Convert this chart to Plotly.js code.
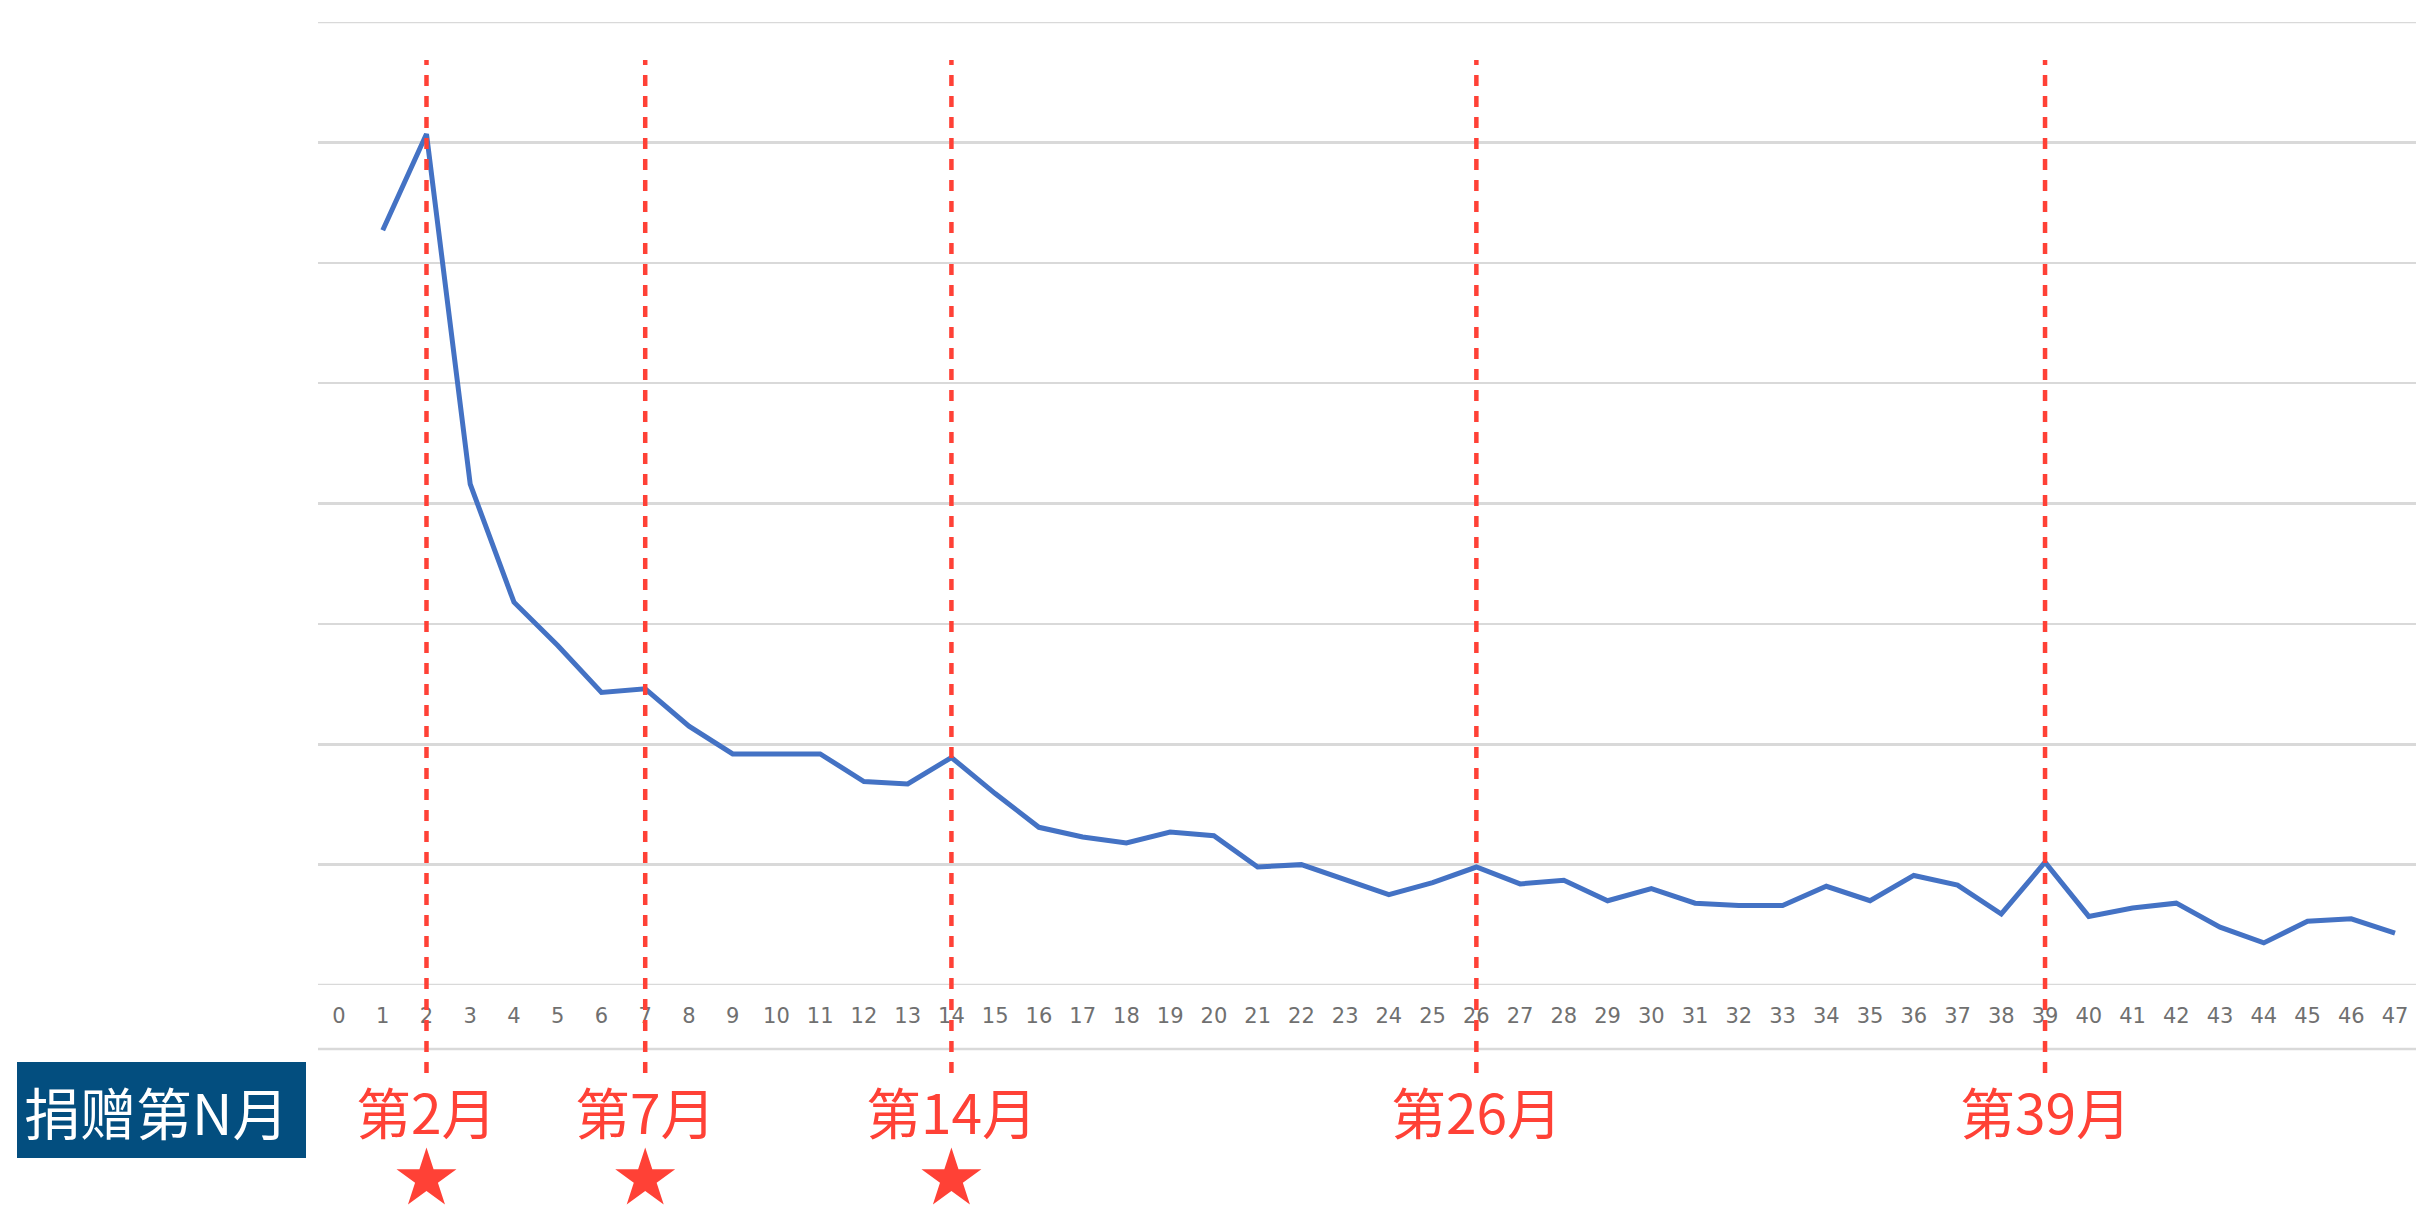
<!DOCTYPE html>
<html>
<head>
<meta charset="utf-8">
<script src="https://cdn.plot.ly/plotly-3.0.1.min.js"></script>
<style>
  html, body { margin: 0; padding: 0; background: #ffffff; }
  #chart { width: 2416px; height: 1207px; }
</style>
</head>
<body>
<div id="chart"></div>
<script>
// ---- data (y has no labelled scale, units = gridline steps) ----
const tickMonths = [0,1,2,3,4,5,6,7,8,9,10,11,12,13,14,15,16,17,18,19,20,21,22,23,
                    24,25,26,27,28,29,30,31,32,33,34,35,36,37,38,39,40,41,42,43,44,45,46,47];
const tickLabels = ["0","1","2","3","4","5","6","7","8","9","10","11","12","13","14","15",
                    "16","17","18","19","20","21","22","23","24","25","26","27","28","29","30",
                    "31","32","33","34","35","36","37","38","39","40","41","42","43","44","45","46","47"];
const months = [1,2,3,4,5,6,7,8,9,10,11,12,13,14,15,16,17,18,19,20,21,22,23,24,
                25,26,27,28,29,30,31,32,33,34,35,36,37,38,39,40,41,42,43,44,45,46,47];
const values = [6.27,7.07,4.16,3.18,2.82,2.43,2.46,2.15,1.92,1.92,1.92,1.69,1.67,1.89,
                1.59,1.31,1.23,1.18,1.27,1.24,0.98,1.00,0.87,0.75,0.85,0.98,0.84,0.87,
                0.70,0.80,0.68,0.66,0.66,0.82,0.70,0.91,0.83,0.59,1.02,0.57,0.64,0.68,
                0.48,0.35,0.53,0.55,0.43];
const markedMonths = [2,7,14,26,39];
const markedLabels = ["第2月","第7月","第14月","第26月","第39月"];
const starMonths = [2,7,14];
const boxLabel = "捐赠第N月";

// ---- layout geometry (pixels of the 2416x1207 page) ----
const W = 2416, H = 1207;
const PLOT_L = 318, PLOT_T = 22, PLOT_B = 985;
const X_RANGE = [-0.48, 47.48];
const Y_RANGE = [0, 8];
const pxPerMonth = (W - PLOT_L) / (X_RANGE[1] - X_RANGE[0]);
const fx = px => px / W;           // page x -> paper
const fy = py => 1 - py / H;       // page y -> paper

// ---- styling constants ----
const RED = "#FF4136";
const BLUE = "#4472C4";
const GRID = "#d9d9d9";
const CJK = "Noto Sans CJK SC, Noto Sans, sans-serif";

const traces = [
  {
    x: months, y: values, type: "scatter", mode: "lines",
    xaxis: "x", yaxis: "y",
    line: { color: BLUE, width: 5 },
    hoverinfo: "skip", showlegend: false
  },
  {
    // stars under the first three marked months, on a full-page axis pair
    x: starMonths, y: starMonths.map(() => H - 1179), type: "scatter", mode: "markers",
    xaxis: "x2", yaxis: "y2",
    marker: { symbol: "star", size: 45, color: RED, line: { width: 0 } },
    cliponaxis: false, hoverinfo: "skip", showlegend: false
  }
];

const shapes = markedMonths.map(m => ({
  type: "line", xref: "x", yref: "paper",
  x0: m, x1: m, y0: fy(1073), y1: fy(60),
  line: { color: RED, width: 4.5, dash: "11px,10px" },
  layer: "above"
}));
// edge gridlines (value 0 and 8) and the line under the tick labels
[0, 8].forEach(v => shapes.push({
  type: "line", xref: "paper", yref: "y",
  x0: fx(PLOT_L), x1: 1, y0: v, y1: v,
  line: { color: GRID, width: 2.5 }, layer: "below"
}));
shapes.push({
  type: "line", xref: "paper", yref: "paper",
  x0: fx(PLOT_L), x1: 1, y0: fy(1049), y1: fy(1049),
  line: { color: GRID, width: 2.5 }, layer: "below"
});
shapes.push({
  type: "rect", xref: "paper", yref: "paper",
  x0: fx(17), x1: fx(306), y0: fy(1158), y1: fy(1062),
  fillcolor: "#034E7F", line: { width: 0 }, layer: "below"
});

const annotations = markedMonths.map((m, i) => ({
  x: m, xref: "x", y: fy(1110), yref: "paper",
  text: markedLabels[i], showarrow: false,
  xanchor: "center", yanchor: "middle",
  font: { family: CJK, size: 55, color: RED }
}));
annotations.push({
  x: fx(156), xref: "paper", y: fy(1110), yref: "paper",
  text: boxLabel, showarrow: false,
  xanchor: "center", yanchor: "middle",
  font: { family: CJK, size: 56, color: "#ffffff" }
});

const layout = {
  width: W, height: H,
  margin: { l: 0, r: 0, t: 0, b: 0, pad: 0 },
  paper_bgcolor: "#ffffff", plot_bgcolor: "rgba(0,0,0,0)",
  showlegend: false,
  xaxis: {
    domain: [fx(PLOT_L), 1], anchor: "y",
    range: X_RANGE,
    tickmode: "array", tickvals: tickMonths, ticktext: tickLabels,
    showgrid: false, zeroline: false, showline: false,
    ticks: "", ticklabelstandoff: 16,
    tickfont: { family: "DejaVu Sans, sans-serif", size: 21, color: "#707070" },
    fixedrange: true
  },
  yaxis: {
    domain: [fy(PLOT_B), fy(PLOT_T)], anchor: "x",
    range: Y_RANGE, dtick: 1, tick0: 0,
    showticklabels: false, ticks: "",
    showgrid: true, gridcolor: GRID, gridwidth: 2.5,
    zeroline: false, showline: false, fixedrange: true
  },
  xaxis2: {
    domain: [0, 1], anchor: "y2",
    range: [X_RANGE[0] - PLOT_L / pxPerMonth, X_RANGE[1]],
    visible: false, showgrid: false, zeroline: false, fixedrange: true
  },
  yaxis2: {
    domain: [0, 1], anchor: "x2",
    range: [0, H], visible: false, showgrid: false, zeroline: false, fixedrange: true
  },
  shapes: shapes,
  annotations: annotations
};

Plotly.newPlot("chart", traces, layout, { staticPlot: true, displayModeBar: false });
</script>
</body>
</html>
